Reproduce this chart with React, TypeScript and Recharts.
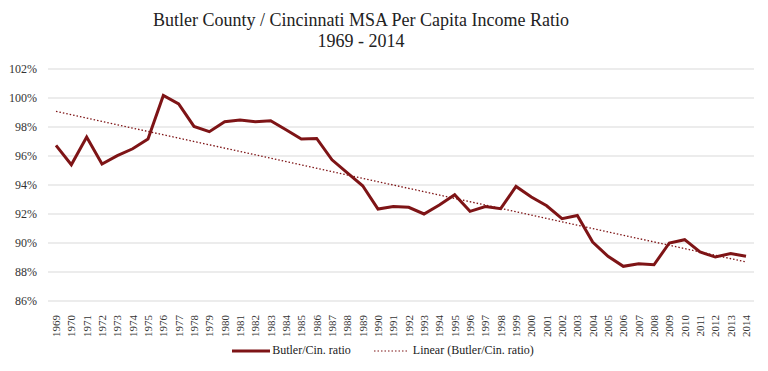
import React from "react";
import { LineChart, Line, XAxis, YAxis, CartesianGrid, Legend } from "recharts";

const years = [
  1969, 1970, 1971, 1972, 1973, 1974, 1975, 1976, 1977, 1978, 1979, 1980,
  1981, 1982, 1983, 1984, 1985, 1986, 1987, 1988, 1989, 1990, 1991, 1992,
  1993, 1994, 1995, 1996, 1997, 1998, 1999, 2000, 2001, 2002, 2003, 2004,
  2005, 2006, 2007, 2008, 2009, 2010, 2011, 2012, 2013, 2014,
];

// Butler/Cin. ratio in percent
const ratio = [
  96.73, 95.4, 97.31, 95.45, 96.02, 96.5, 97.17, 100.18, 99.59, 98.04, 97.68,
  98.37, 98.48, 98.37, 98.43, 97.81, 97.17, 97.21, 95.74, 94.83, 93.95, 92.34,
  92.52, 92.46, 92.0, 92.62, 93.33, 92.18, 92.52, 92.37, 93.9, 93.17, 92.57,
  91.68, 91.9, 90.07, 89.08, 88.39, 88.57, 88.5, 90.0, 90.23, 89.38, 89.03,
  89.28, 89.08,
];

// linear trend endpoints as drawn in the picture
const trendStart = 99.08;
const trendEnd = 88.69;

const yTicks = [86, 88, 90, 92, 94, 96, 98, 100, 102];

const RED = "#7e1416";
const FONT = "Liberation Serif, Times New Roman, serif";

const data = years.map((y, i) => ({
  year: String(y),
  ratio: ratio[i],
  trend: i === 0 ? trendStart : i === years.length - 1 ? trendEnd : null,
}));

const YearTick = (props: any) => {
  const { x, y, payload } = props;
  return (
    <text
      x={x}
      y={y + 6}
      transform={`rotate(-90, ${x}, ${y + 6})`}
      textAnchor="end"
      dy="0.35em"
      fontSize={11}
      style={{ fontFamily: FONT }}
      fill="#333"
    >
      {payload.value}
    </text>
  );
};

const PctTick = (props: any) => {
  const { x, y, payload } = props;
  return (
    <text
      x={x}
      y={y}
      textAnchor="end"
      dy="0.35em"
      fontSize={12}
      style={{ fontFamily: FONT }}
      fill="#333"
    >
      {`${payload.value}%`}
    </text>
  );
};

const LegendBox = () => (
  <div
    style={{
      display: "flex",
      justifyContent: "center",
      alignItems: "center",
      fontFamily: FONT,
      fontSize: 12,
      color: "#222",
      paddingLeft: 12,
    }}
  >
    <svg width={38} height={10}>
      <line x1={0} y1={5} x2={38} y2={5} stroke={RED} strokeWidth={3} />
    </svg>
    <span style={{ marginLeft: 2 }}>Butler/Cin. ratio</span>
    <svg width={33} height={10} style={{ marginLeft: 23 }}>
      <line
        x1={0}
        y1={5}
        x2={33}
        y2={5}
        stroke={RED}
        strokeWidth={1.2}
        strokeDasharray="1.5 2"
      />
    </svg>
    <span style={{ marginLeft: 6 }}>Linear (Butler/Cin. ratio)</span>
  </div>
);

export default function App() {
  return (
    <div
      style={{
        position: "absolute",
        left: 0,
        top: 0,
        width: 768,
        height: 371,
        background: "#fff",
        fontFamily: FONT,
      }}
    >
      <div
        style={{
          position: "absolute",
          left: 0,
          top: 10,
          width: 722,
          textAlign: "center",
          fontFamily: FONT,
          fontSize: 18,
          lineHeight: "21px",
          color: "#222",
          zIndex: 1,
        }}
      >
        Butler County / Cincinnati MSA Per Capita Income Ratio
        <br />
        1969 - 2014
      </div>
      <LineChart
        width={768}
        height={371}
        data={data}
        margin={{ top: 69, right: 14, bottom: 4, left: 0 }}
      >
        <CartesianGrid vertical={false} stroke="#d9d9d9" strokeWidth={1} />
        <XAxis
          dataKey="year"
          interval={0}
          axisLine={false}
          tickLine={false}
          height={42}
          padding={{ left: 8, right: 8 }}
          tick={<YearTick />}
        />
        <YAxis
          domain={[86, 102]}
          ticks={yTicks}
          width={48}
          axisLine={false}
          tickLine={false}
          tickMargin={5}
          tick={<PctTick />}
        />
        <Legend verticalAlign="bottom" height={24} content={<LegendBox />} />
        <Line
          dataKey="ratio"
          type="linear"
          stroke={RED}
          strokeWidth={3}
          dot={false}
          isAnimationActive={false}
        />
        <Line
          dataKey="trend"
          type="linear"
          stroke={RED}
          strokeWidth={1.3}
          strokeDasharray="1.5 2"
          connectNulls
          dot={false}
          isAnimationActive={false}
        />
      </LineChart>
    </div>
  );
}
